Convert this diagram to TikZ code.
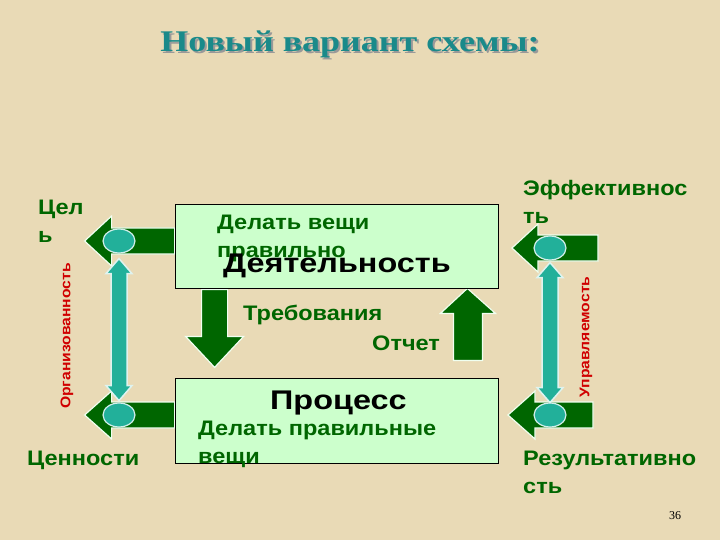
\documentclass[tikz,border=0pt]{standalone}
\usepackage{fontspec}
\setmainfont{Liberation Sans}
\newfontfamily\labelfont{Liberation Sans}[FakeStretch=1.12]
\newfontfamily\headfont{Liberation Sans}[FakeStretch=1.2]
\newfontfamily\titlefont{Liberation Serif}[FakeStretch=1.2]
\newfontfamily\pagefont{Liberation Serif}
\usepackage{tikz}
\usetikzlibrary{shapes.geometric}
\usetikzlibrary{backgrounds}
\definecolor{Pergament}{HTML}{E9DAB6}
\definecolor{DarkGreen}{HTML}{006600}
\definecolor{BoxGreen}{HTML}{CCFFCC}
\definecolor{Teal}{HTML}{22B09A}
\definecolor{TitleTeal}{HTML}{1A8A8A}
\definecolor{LabelRed}{HTML}{D00000}

\tikzset{
  box/.style={draw=black, fill=BoxGreen, line width=.8pt, minimum width=323pt, inner sep=0pt},
  blockarrow/.style={fill=DarkGreen, draw=white!70!BoxGreen, line width=1.2pt},
  tealarrow/.style={fill=Teal, draw=white!85!Teal, line width=1.5pt},
  marker/.style={ellipse, fill=Teal, draw=white!80!Teal, line width=1.2pt, minimum width=32pt, minimum height=24pt, inner sep=0pt},
  label/.style={text=DarkGreen, font=\labelfont\bfseries\fontsize{21}{28}\selectfont, align=left, inner sep=0pt, anchor=base west},
  vlabel/.style={text=LabelRed, font=\labelfont\bfseries\fontsize{14}{16}\selectfont, rotate=90, inner sep=0pt},
  heading/.style={text=black, font=\headfont\bfseries\fontsize{27}{32}\selectfont, inner sep=0pt, anchor=base west},
  titletext/.style={font=\titlefont\bfseries\fontsize{30}{36}\selectfont, anchor=base}
}

\begin{document}
\begin{tikzpicture}[x=1pt, y=-1pt]
  \useasboundingbox (0,0) rectangle (720,540);

  % boxes
  \node[box, minimum height=84pt] (act) at (336.5,246) {};
  \node[box, minimum height=85pt] (proc) at (336.5,420.5) {};

  % markers on the side arrows
  \node[marker] (mTL) at (119,241) {};
  \node[marker] (mBL) at (119,415) {};
  \node[marker] (mTR) at (550,248) {};
  \node[marker] (mBR) at (550,415) {};

\begin{scope}[on background layer]
    \fill[Pergament] (0,0) rectangle (720,540);
    % left arrows
    \draw[blockarrow] (act.west |- mTL) ++(0,-13) -- ++(-63,0) -- ++(0,-12) -- ++(-27,25)
      -- ++(27,25) -- ++(0,-12) -- ++(63,0) -- cycle;
    \draw[blockarrow] (proc.west |- mBL) ++(0,-13) -- ++(-63,0) -- ++(0,-11) -- ++(-27,24)
      -- ++(27,24) -- ++(0,-11) -- ++(63,0) -- cycle;
    % right arrows
    \draw[blockarrow] (mTR) ++(-38,0) -- ++(26,-24) -- ++(0,11) -- ++(60,0) -- ++(0,26)
      -- ++(-60,0) -- ++(0,11) -- cycle;
    \draw[blockarrow] (mBR) ++(-42,0) -- ++(27,-24) -- ++(0,11) -- ++(58,0) -- ++(0,26)
      -- ++(-58,0) -- ++(0,11) -- cycle;
    % down and up
    \draw[blockarrow] (act.south west) ++(27,1) -- ++(0,47) -- ++(-16,0) -- ++(29,31)
      -- ++(29,-31) -- ++(-16,0) -- ++(0,-47) -- cycle;
    \draw[blockarrow] (act.south east) ++(-31,0) -- ++(28,25) -- ++(-13,0) -- ++(0,47)
      -- ++(-29,0) -- ++(0,-47) -- ++(-13,0) -- cycle;
\end{scope}

  % double arrows
  \draw[tealarrow] (mTL.south) ++(0,5) -- ++(13,15) -- ++(-5,0) -- ++(0,112) -- ++(5,0)
    -- ++(-13,15) -- ++(-13,-15) -- ++(5,0) -- ++(0,-112) -- ++(-5,0) -- cycle;
  \draw[tealarrow] (mTR.south) ++(0,2) -- ++(13,15) -- ++(-5,0) -- ++(0,110) -- ++(5,0)
    -- ++(-13,15) -- ++(-13,-15) -- ++(5,0) -- ++(0,-110) -- ++(-5,0) -- cycle;

  % title
  \node[titletext, text=black!40] at (352,54) {Новый вариант схемы:};
  \node[titletext, text=TitleTeal] (title) at (350,52) {Новый вариант схемы:};

  % texts (base = last line)
  \node[label] (doright) at (217,257) {Делать вещи\\правильно};
  \node[heading] (acttext) at (223,272) {Деятельность};
  \node[heading] (proctext) at (270,409) {Процесс};
  \node[label] (dothings) at (198,463) {Делать правильные\\вещи};
  \node[label] (req) at (243,320) {Требования};
  \node[label] (rep) at (372,350) {Отчет};
  \node[label] (goal) at (38,242) {Цел\\ь};
  \node[label] (values) at (27,465) {Ценности};
  \node[label] (eff) at (523,223) {Эффективнос\\ть};
  \node[label] (res) at (523,493) {Результативно\\сть};
  \node[vlabel] (org) at (67,336) {Организованность};
  \node[vlabel] (ctrl) at (586,337) {Управляемость};
  \node[font=\pagefont\fontsize{12}{14}\selectfont] (page) at (675,516) {36};
\end{tikzpicture}
\end{document}
